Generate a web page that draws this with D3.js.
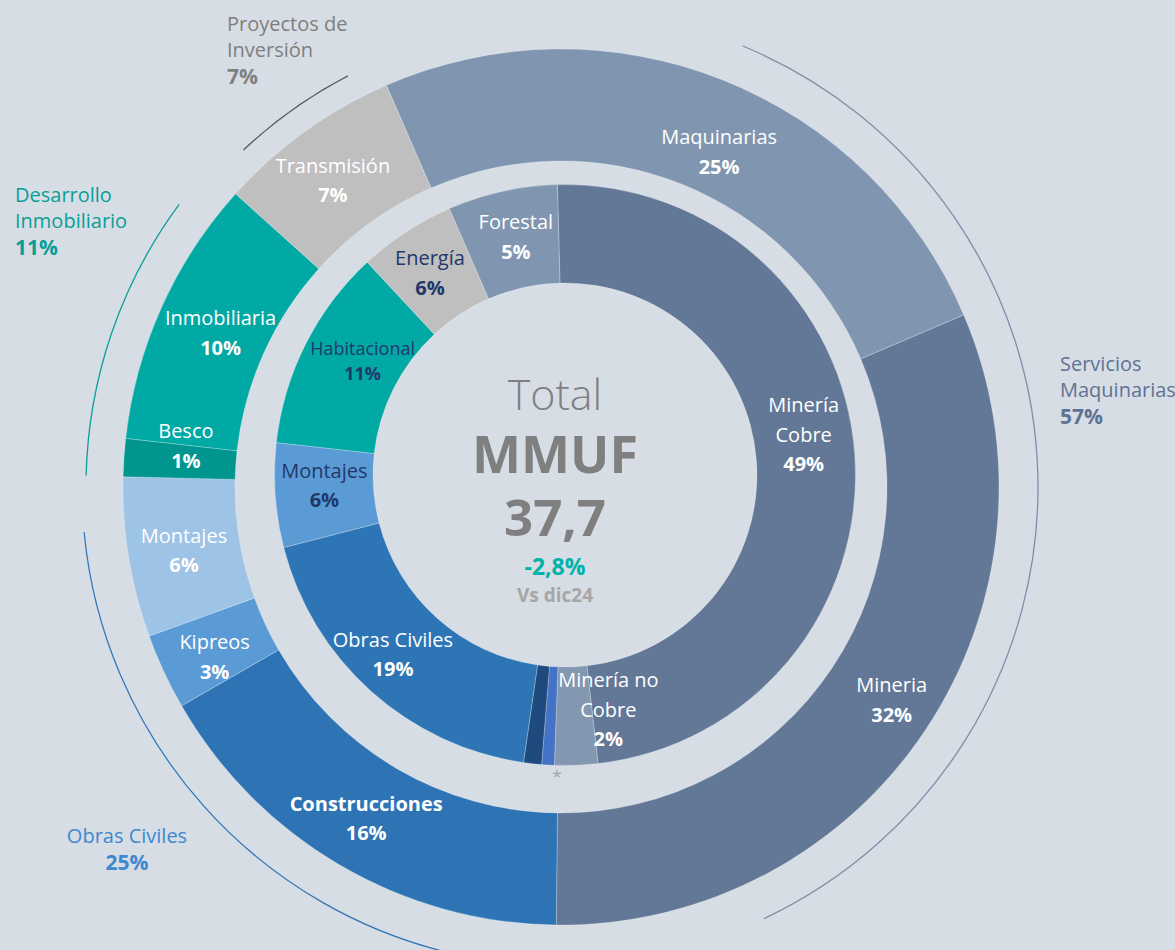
<!DOCTYPE html>
<html>
<head>
<meta charset="utf-8">
<script src="https://cdn.jsdelivr.net/npm/d3@7"></script>
<style>
  body { margin: 0; background: #d6dde4; }
  svg text { font-family: "Open Sans", "Noto Sans", sans-serif; }
</style>
</head>
<body>
<div id="chart"></div>
<script>
// outer ring (unidades de negocio), clockwise from Maquinarias
const outerNames = ["Maquinarias", "Mineria", "Construcciones", "Kipreos", "Montajes", "Besco", "Inmobiliaria", "Transmisión"];
const outerShare = [25.1, 31.6, 16.5, 2.8, 5.9, 1.4, 9.9, 6.8];
const outerPct = ["25%", "32%", "16%", "3%", "6%", "1%", "10%", "7%"];

// inner ring (mercados), clockwise from Minería Cobre
const innerNames = ["Minería\nCobre", "Minería no\nCobre", "", "", "Obras Civiles", "Montajes", "Habitacional", "Energía", "Forestal"];
const innerShare = [48.6, 2.4, 0.7, 1.0, 18.7, 5.8, 11.3, 5.4, 6.1];
const innerPct = ["49%", "2%", "", "", "19%", "6%", "11%", "6%", "5%"];

// areas de negocio
const groupNames = ["Proyectos de\nInversión", "Desarrollo\nInmobiliario", "Obras Civiles", "Servicios\nMaquinarias"];
const groupPct = ["7%", "11%", "25%", "57%"];

// centro
const totalLabel = "Total";
const unitLabel = "MMUF";
const totalValue = "37,7";
const changeValue = "-2,8%";
const changeRef = "Vs dic24";

const outerColors = ["#8096b0", "#637896", "#2e74b5", "#5a9bd5", "#9dc3e6", "#00968f", "#00a9a4", "#bfbfbf"];
const innerColors = ["#637896", "#8497b0", "#4472c4", "#1f4a7e", "#2e75b6", "#5b9bd5", "#00a9a4", "#bfbfbf", "#8096b0"];
const innerText = ["#fff", "#fff", "#fff", "#fff", "#fff", "#22386b", "#22386b", "#22386b", "#fff"];

// label nudges from the arc centroid [dx, dy]
const outerNudge = [[17, 18], [13, -1], [-2, 0], [0, 7], [0, 0], [6, -17], [8, 1], [-5, 2]];
const innerNudge = [[-2, -25], [34, -8], [0, 0], [0, 0], [-11, -2], [0, -8], [13, -5], [-3, -2], [3, -4]];

const W = 1175, H = 950;
const rad = d => d * Math.PI / 180;

const svg = d3.select("#chart")
    .append("svg")
    .attr("width", W)
    .attr("height", H);

svg.append("rect").attr("width", W).attr("height", H).attr("fill", "#d6dde4");

// outer ring
let oc = {x: 561, y: 487};
let gOut = svg.append("g").attr("transform", "translate(" + oc.x + "," + oc.y + ")");
let outerArc = d3.arc().innerRadius(326).outerRadius(438);
let outerPie = d3.pie().sort(null).value(d => d)
    .startAngle(rad(-23.5)).endAngle(rad(336.5));
let outerArcs = outerPie(outerShare);

gOut.selectAll("path.slice")
    .data(outerArcs)
    .enter()
    .append("path")
    .attr("class", "slice")
    .attr("d", outerArc)
    .attr("fill", (d, i) => outerColors[i])
    .attr("stroke", "rgba(255,255,255,0.35)")
    .attr("stroke-width", 0.7);

// inner ring (sits slightly higher than the outer one in the original)
let ic = {x: 565, y: 475};
let gIn = svg.append("g").attr("transform", "translate(" + ic.x + "," + ic.y + ")");
let innerArc = d3.arc().innerRadius(192).outerRadius(290.5);
let innerPie = d3.pie().sort(null).value(d => d)
    .startAngle(rad(-1.5)).endAngle(rad(358.5));
let innerArcs = innerPie(innerShare);

gIn.selectAll("path.slice")
    .data(innerArcs)
    .enter()
    .append("path")
    .attr("class", "slice")
    .attr("d", innerArc)
    .attr("fill", (d, i) => innerColors[i])
    .attr("stroke", "rgba(255,255,255,0.35)")
    .attr("stroke-width", 0.7);

// labels inside the rings
function ringLabels(g, arcs, arcGen, names, pcts, nudges, colorOf, sizeOf, boldName) {
    arcs.forEach((a, i) => {
        if (!names[i]) return;
        let c = arcGen.centroid(a);
        let lines = names[i].split("\n");
        let fs = sizeOf(i);
        let lh = fs < 20 ? 25 : 29.5;
        let n = lines.length + 1;
        let x = c[0] + nudges[i][0];
        let y0 = c[1] - 6 - (n - 2) * lh / 2 + nudges[i][1];
        let t = g.append("text")
            .attr("text-anchor", "middle")
            .attr("fill", colorOf(i));
        lines.forEach((l, k) => {
            t.append("tspan")
                .attr("x", x)
                .attr("y", y0 + k * lh)
                .attr("font-size", fs)
                .attr("font-weight", boldName(i) ? 700 : 400)
                .text(l);
        });
        t.append("tspan")
            .attr("x", x)
            .attr("y", y0 + lines.length * lh)
            .attr("font-size", fs)
            .attr("font-weight", 700)
            .text(pcts[i]);
    });
}

ringLabels(gOut, outerArcs, outerArc, outerNames, outerPct, outerNudge,
    () => "#fff", () => 20, i => outerNames[i] === "Construcciones");
ringLabels(gIn, innerArcs, innerArc, innerNames, innerPct, innerNudge,
    i => innerText[i], i => innerNames[i] === "Habitacional" ? 18 : 20, () => false);

// asterisk under the small slices
svg.append("text")
    .attr("x", 557).attr("y", 782)
    .attr("text-anchor", "middle")
    .attr("font-size", 17)
    .attr("fill", "#a6a6a6")
    .text("*");

// group arcs (thin lines outside)
const groupArcs = [
    {r: 463, a0: -43.3, a1: -27.4, color: "#595959", w: 1.3},
    {r: 475, a0: -88.6, a1: -53.5, color: "#0e9e98", w: 1.3},
    {r: 479, a0: -168, a1: -95.4, color: "#2e75b6", w: 1.2},
    {r: 477, a0: 22.4, a1: 154.8, color: "#7d8faa", w: 1.3}
];
groupArcs.forEach(d => {
    let p = d3.path();
    p.arc(0, 0, d.r, rad(d.a0) - Math.PI / 2, rad(d.a1) - Math.PI / 2);
    gOut.append("path")
        .attr("d", p.toString())
        .attr("fill", "none")
        .attr("stroke", d.color)
        .attr("stroke-width", d.w);
});

// group labels
const groupPos = [
    {x: 227, y: 31, anchor: "start", color: "#7f7f7f"},
    {x: 15, y: 202, anchor: "start", color: "#0a9e97"},
    {x: 127, y: 843, anchor: "middle", color: "#3e88d0"},
    {x: 1060, y: 371, anchor: "start", color: "#5e7394"}
];
groupNames.forEach((name, i) => {
    let p = groupPos[i];
    let lines = name.split("\n");
    let t = svg.append("text")
        .attr("text-anchor", p.anchor)
        .attr("fill", p.color);
    lines.forEach((l, k) => {
        t.append("tspan").attr("x", p.x).attr("y", p.y + k * 26)
            .attr("font-size", 20).text(l);
    });
    t.append("tspan").attr("x", p.x).attr("y", p.y + lines.length * 26 + 1)
        .attr("font-size", 21).attr("font-weight", 700).text(groupPct[i]);
});

// center block
let cx = 555;
svg.append("text").attr("x", cx).attr("y", 410).attr("text-anchor", "middle")
    .attr("font-size", 43).attr("font-weight", 300).attr("fill", "#808080").text(totalLabel);
svg.append("text").attr("x", cx).attr("y", 473).attr("text-anchor", "middle")
    .attr("font-size", 52).attr("font-weight", 700).attr("fill", "#7f7f7f").text(unitLabel);
svg.append("text").attr("x", cx).attr("y", 536).attr("text-anchor", "middle")
    .attr("font-size", 51).attr("font-weight", 700).attr("fill", "#7f7f7f").text(totalValue);
svg.append("text").attr("x", cx).attr("y", 575).attr("text-anchor", "middle")
    .attr("font-size", 23).attr("font-weight", 700).attr("fill", "#00b2a9").text(changeValue);
svg.append("text").attr("x", cx).attr("y", 602).attr("text-anchor", "middle")
    .attr("font-size", 19).attr("font-weight", 700).attr("fill", "#a6a6a6").text(changeRef);
</script>
</body>
</html>
